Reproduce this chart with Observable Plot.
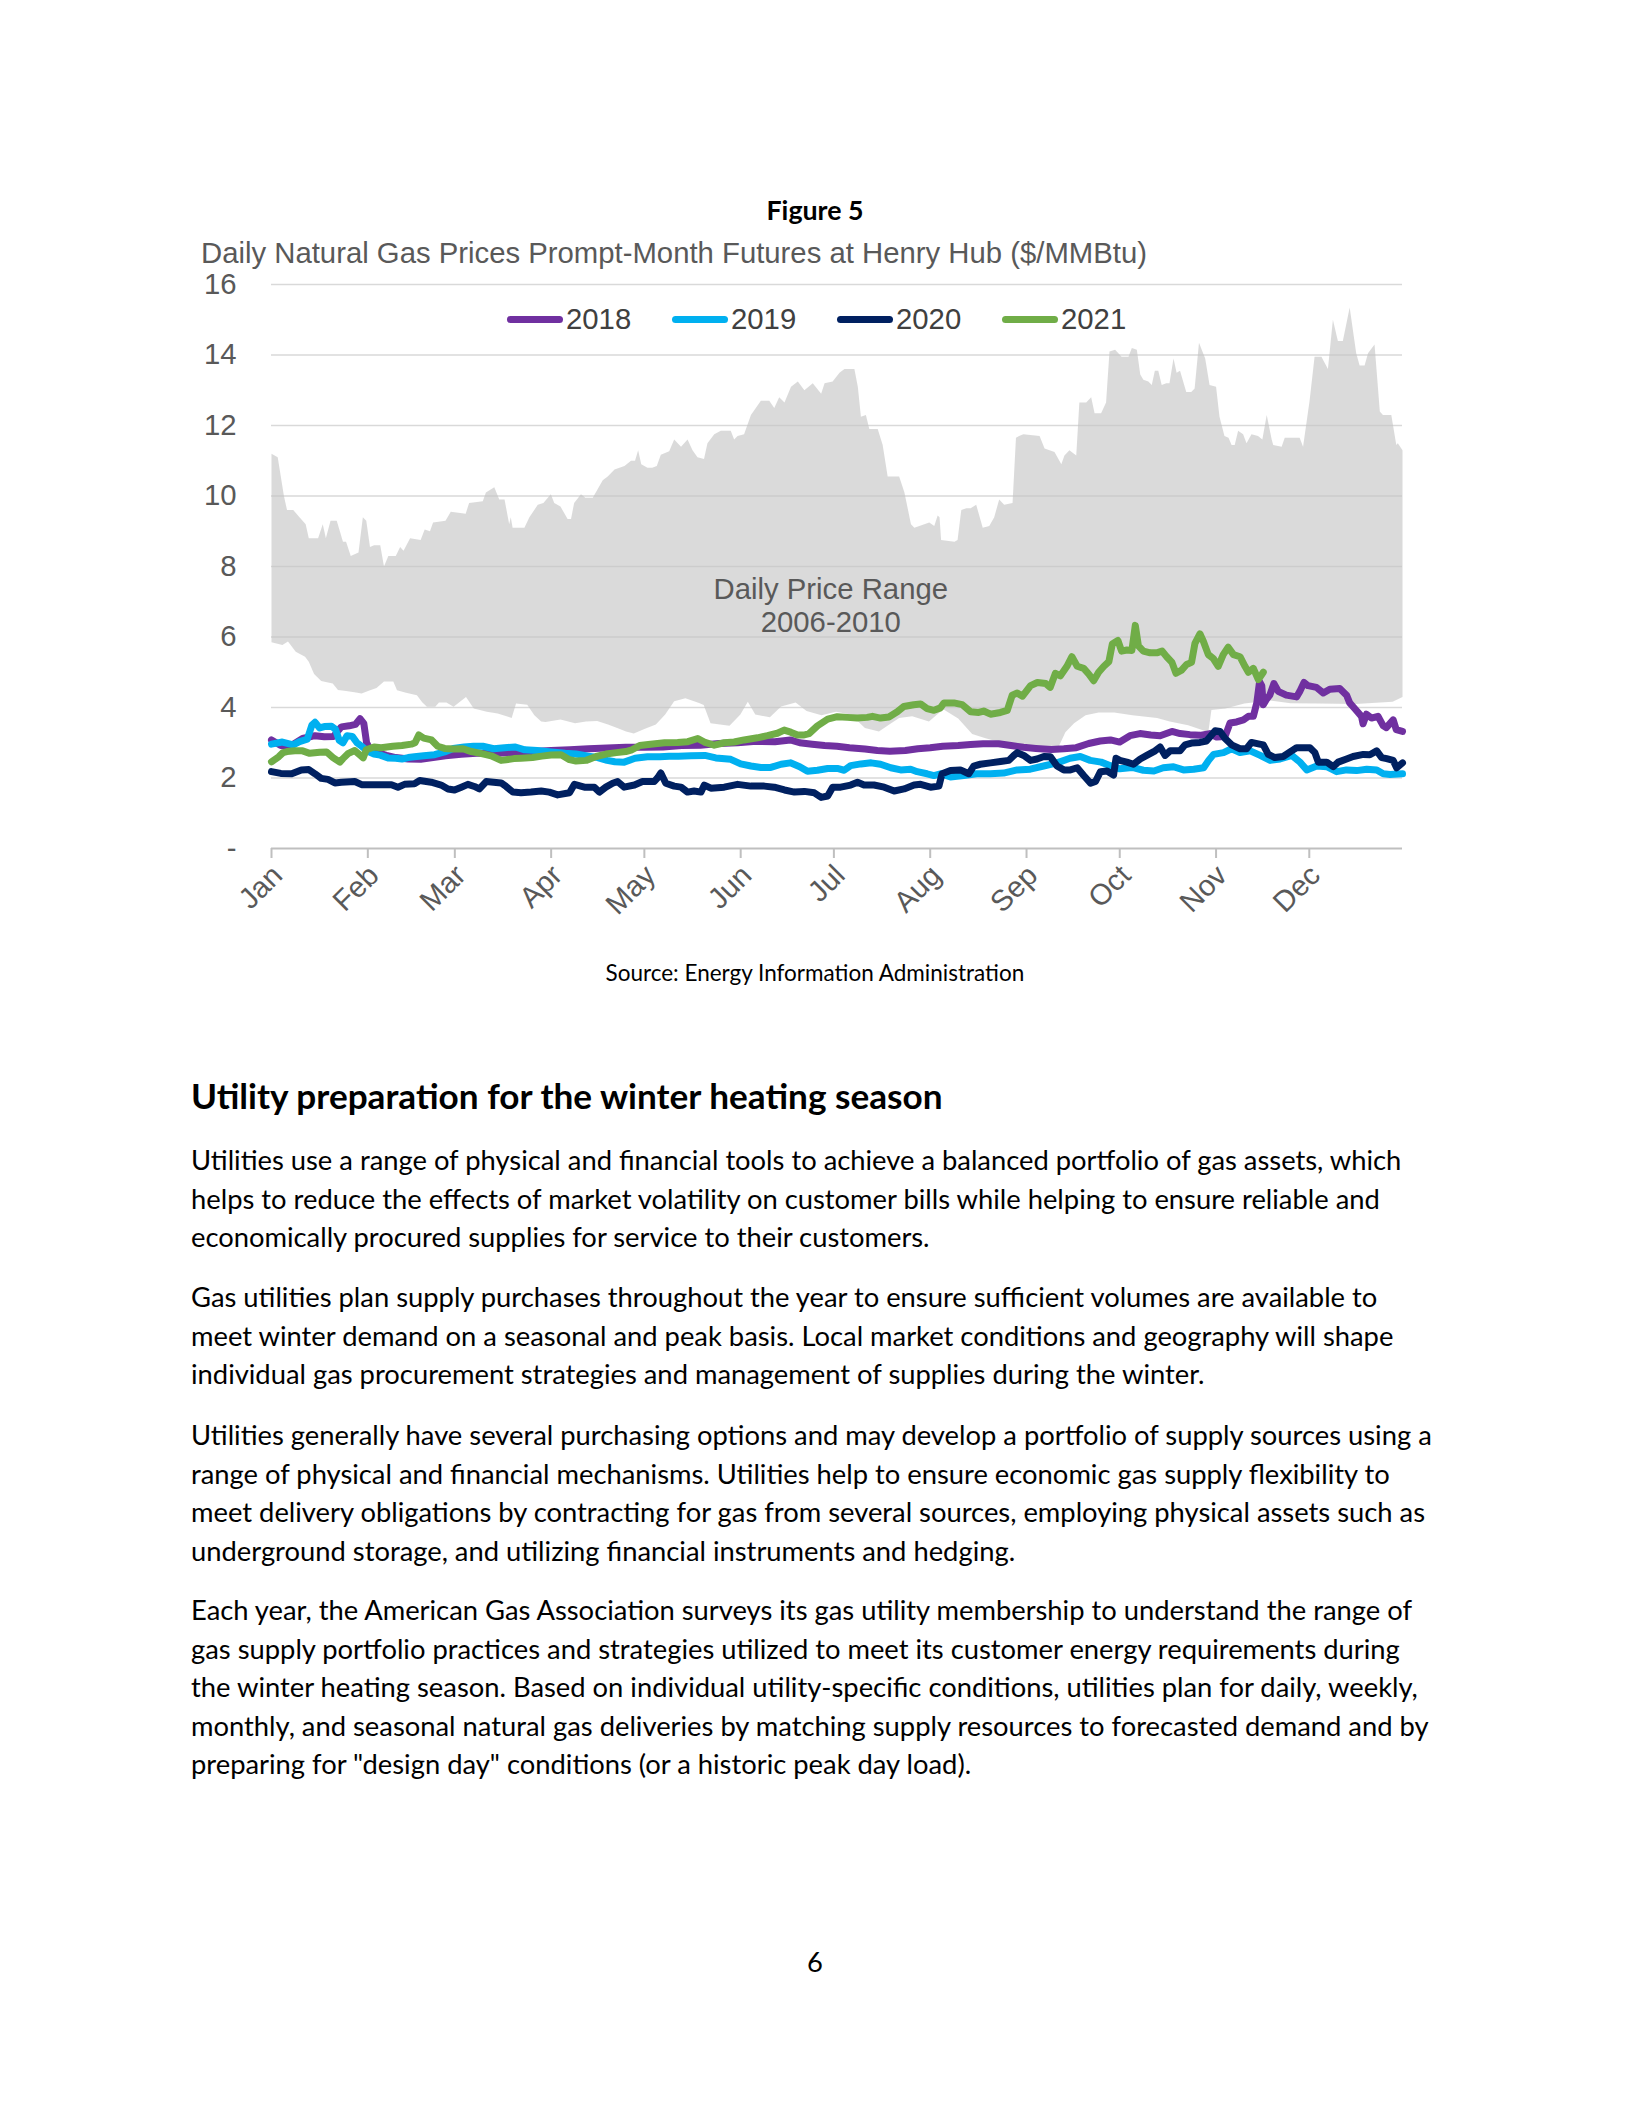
<!DOCTYPE html>
<html><head><meta charset="utf-8">
<script src="https://cdn.jsdelivr.net/npm/d3@7"></script>
<script src="https://cdn.jsdelivr.net/npm/@observablehq/plot@0.6"></script>
<style>
html,body{margin:0;padding:0;background:#fff;}
body{width:1631px;height:2111px;position:relative;overflow:hidden;}
.abs{position:absolute;white-space:nowrap;}
.doc{font-family:Lato,"Open Sans",sans-serif;color:#000;}
.ch{font-family:"Liberation Sans",Arial,sans-serif;}
</style></head><body>
<div id="figlabel" class="abs doc" style="font-weight:700">Figure 5</div>
<div id="ctitle" class="abs ch" style="left:201px;font-size:29.3px;line-height:29.3px;top:238px;color:#595959">Daily Natural Gas Prices Prompt-Month Futures at Henry Hub ($/MMBtu)</div>
<div id="chart" class="abs" style="left:0;top:240px"></div>
<div id="legend"></div>
<div id="source" class="abs doc">Source: Energy Information Administration</div>
<div id="heading" class="abs doc" style="font-weight:700">Utility preparation for the winter heating season</div>
<div id="paras"></div>
<div id="pagenum" class="abs doc">6</div>
<script>
// ---------- data ----------
const monthLabels = ["Jan","Feb","Mar","Apr","May","Jun","Jul","Aug","Sep","Oct","Nov","Dec"];
const monthStarts = [0,31,59,90,120,151,181,212,243,273,304,334];
const yTicks = [0,2,4,6,8,10,12,14,16];
const years = ["2018","2019","2020","2021"];
const colors = ["#7030A0","#00B0F0","#002060","#70AD47"];
const rangeLabel = {text:"Daily Price Range\n2006-2010", day:180, value:6.9};

// 2006-2010 daily range: [day of year, $/MMBtu]
const rangeHigh = [[0,11.2],[2,11.1],[4,10.0],[5,9.6],[7,9.6],[9,9.4],[11,9.2],[12,8.8],[15,8.8],[16.5,9.2],[17.5,8.8],[19,9.3],[21,9.3],[23,8.7],[24,8.7],[25.5,8.3],[28,8.4],[29.4,9.4],[30.5,9.3],[31.7,8.55],[33,8.6],[35,8.6],[36.2,8.0],[37.6,8.3],[40,8.3],[41.4,8.55],[42.5,8.45],[44.6,8.8],[48,8.75],[49.3,9.05],[51,9.0],[52,9.25],[56,9.3],[57.7,9.55],[62.5,9.5],[63.6,9.8],[68,9.85],[69,10.1],[71.7,10.25],[73.3,9.9],[75,9.9],[76.5,9.2],[77,9.4],[77.6,9.1],[81.4,9.1],[83,9.4],[85.7,9.75],[87.5,9.8],[89.9,10.05],[91,9.8],[93,9.7],[95.3,9.35],[96.4,9.35],[97.4,9.8],[99.6,10.05],[101,9.95],[103.4,9.95],[106.6,10.45],[108.2,10.55],[110.4,10.75],[113.6,10.85],[115.7,11.0],[117,11.0],[118,11.3],[119,10.9],[121,10.8],[122.5,10.8],[124,10.85],[125.3,11.17],[128,11.27],[129.6,11.6],[131.8,11.4],[133.9,11.6],[135.5,11.3],[137.1,11.1],[139.2,11.05],[140.3,11.5],[142.5,11.75],[144.6,11.85],[147.8,11.85],[148.9,11.6],[150,11.7],[152.1,11.75],[154.3,12.3],[157.5,12.7],[160.2,12.7],[161.8,12.5],[163.4,12.8],[165.1,12.65],[167.2,13.1],[169.4,13.25],[171.5,13.0],[174.2,13.2],[176.9,12.9],[178,13.2],[180.6,13.25],[182.8,13.5],[184.4,13.6],[187.6,13.6],[188.7,13.1],[189.7,12.25],[191.3,12.3],[192.4,11.9],[195.1,11.9],[196.7,11.45],[198.3,10.55],[202,10.55],[203.7,10.1],[205.8,9.2],[206.9,9.1],[210.1,9.2],[211.7,9.25],[213.3,9.15],[214.4,9.45],[215,9.4],[215.5,8.75],[219.8,8.7],[220.8,8.75],[222,9.6],[223.6,9.65],[225,9.65],[226.8,9.75],[228.9,9.1],[231,9.15],[232.6,9.4],[234.2,9.9],[235.8,9.75],[238.5,9.8],[239.6,11.65],[240.6,11.7],[242,11.75],[247.2,11.7],[248.8,11.35],[252,11.25],[254.2,10.9],[255.2,11.15],[256.8,11.3],[259,11.15],[260,12.65],[262.2,12.65],[263.8,12.8],[264.9,12.35],[267,12.35],[268.6,12.65],[269.7,14.1],[271.5,14.15],[273.6,13.95],[275.8,13.95],[276.9,14.2],[278.5,14.15],[279.6,13.45],[280.6,13.3],[282.2,13.25],[283.3,13.15],[284.3,13.55],[285.4,13.55],[286.5,13.15],[288,13.2],[289,13.2],[290.3,13.9],[291.3,13.5],[292.4,13.55],[294.4,12.95],[296,12.95],[297.1,13.05],[298.5,14.35],[300.5,13.9],[301.9,13.15],[304,13.1],[305.1,12.25],[306.7,11.7],[308,11.65],[309,11.45],[310,11.45],[311.1,11.85],[312.7,11.75],[313.8,11.5],[315.4,11.75],[317.5,11.7],[318.9,11.6],[320.3,12.3],[321.9,11.6],[322.4,11.45],[325.1,11.4],[326.1,11.65],[330.9,11.65],[332,11.4],[334.1,12.7],[335.7,13.95],[337.9,13.95],[340,13.6],[341.6,15.0],[343.2,14.4],[344.8,14.4],[347,15.35],[349.1,14.05],[350.2,13.7],[351.8,13.7],[352.9,14.05],[355,14.3],[356.7,12.4],[357.7,12.3],[360.4,12.3],[362,11.45],[362.5,11.5],[364,11.3]];
const rangeLow = [[0,5.85],[3.5,5.77],[5.3,5.87],[7.8,5.58],[10.8,5.44],[12,5.3],[13.7,4.95],[16,4.75],[19.7,4.68],[21.4,4.5],[24,4.47],[26.7,4.43],[29,4.4],[31.5,4.48],[33.8,4.55],[36.2,4.74],[39.2,4.74],[40.4,4.49],[43.3,4.42],[46.8,4.35],[48.5,4.15],[50,4.02],[52.7,4.02],[53.9,4.14],[56.3,4.14],[58.6,4.02],[62.6,4.3],[65.1,3.97],[69.3,3.88],[72.8,3.83],[76.4,3.73],[77.3,3.7],[78.7,4.11],[82.3,4.08],[84.6,3.78],[86.8,3.6],[88.2,3.59],[93,3.66],[97.7,3.55],[101.2,3.6],[104.8,3.62],[108.3,3.52],[111.9,3.4],[114.1,3.32],[116.6,3.26],[120.2,3.4],[123.7,3.52],[126.7,3.8],[129.6,4.18],[133.2,4.26],[137.6,4.13],[139.1,4.07],[141.3,3.55],[147.4,3.48],[150.9,3.8],[153.3,4.16],[155.7,3.8],[160.4,3.72],[164,4.03],[168.7,4.14],[172.2,3.9],[177,3.78],[181.7,3.88],[186.4,3.8],[191,3.42],[195.5,3.32],[198.7,3.51],[202,3.7],[206.2,3.75],[211.6,3.6],[216.2,3.95],[221,3.69],[225.5,3.25],[229.8,3.13],[235.2,3.0],[240.5,2.9],[244.8,2.82],[249.1,2.78],[253.4,2.9],[255.5,3.3],[258.3,3.55],[262,3.78],[266.2,3.86],[271.2,3.86],[277.1,3.78],[280,3.75],[285,3.7],[289.1,3.6],[295,3.5],[300,3.35],[301.5,3.3],[302.5,3.93],[307,3.97],[313.1,4.11],[321.4,4.2],[328,4.12],[336.9,4.11],[348.9,4.1],[360.8,4.16],[364,4.3]];

const prices2018 = [[0,3.08],[3,2.92],[6,2.9],[10,3.12],[14,3.2],[17,3.17],[20,3.18],[21.5,3.35],[22.5,3.45],[25,3.48],[27,3.52],[28.5,3.68],[29.7,3.55],[30.6,3.0],[31.8,2.8],[34,2.72],[37,2.64],[40,2.58],[44,2.54],[48,2.53],[52,2.58],[56,2.63],[61,2.67],[66,2.7],[72,2.7],[78,2.72],[84,2.75],[90,2.78],[96,2.8],[102,2.83],[108,2.85],[114,2.87],[120,2.87],[126,2.88],[132,2.92],[138,2.93],[144,2.98],[150,3.0],[156,3.04],[162,3.03],[167,3.08],[170,3.0],[174,2.96],[178,2.92],[182,2.9],[186,2.86],[191,2.82],[195,2.78],[199,2.76],[204,2.78],[208,2.83],[212,2.86],[216,2.9],[221,2.92],[225,2.95],[229,2.97],[234,2.97],[238,2.92],[242,2.87],[246,2.84],[251,2.81],[255,2.83],[259,2.86],[263,2.98],[266.7,3.05],[270,3.08],[273,3.02],[276.3,3.2],[279.5,3.26],[283,3.22],[286,3.2],[289.8,3.32],[292.4,3.26],[295.6,3.23],[298.8,3.21],[302,3.26],[304.2,3.16],[306.9,3.18],[308.5,3.56],[310.6,3.59],[312.8,3.65],[314.4,3.75],[316,3.75],[317.1,4.13],[318,4.73],[318.7,4.62],[319.2,4.08],[320.3,4.24],[321.3,4.35],[322.6,4.68],[324,4.46],[326.6,4.35],[329.9,4.3],[330.9,4.45],[332.3,4.71],[333.6,4.62],[336.3,4.57],[338.5,4.41],[340.6,4.52],[343.8,4.54],[346,4.35],[347,4.13],[348.6,3.97],[350.8,3.75],[351.3,3.54],[352.4,3.81],[354,3.7],[356.1,3.75],[357.8,3.48],[358.8,3.43],[361,3.65],[362,3.37],[364,3.32]];
const prices2019 = [[0,2.96],[3.5,3.02],[7,2.94],[9,3.03],[11.5,3.1],[13,3.5],[14,3.58],[15.5,3.42],[17,3.46],[19.3,3.47],[20.6,3.38],[21.8,3.07],[23,3.0],[24.3,3.2],[26,3.18],[27.5,3.0],[29,2.9],[31,2.76],[33,2.68],[35,2.65],[37.5,2.57],[40,2.56],[42,2.54],[44,2.58],[46,2.6],[49,2.63],[52.5,2.66],[55.7,2.74],[58.5,2.84],[62,2.88],[65,2.9],[68,2.9],[71.5,2.83],[75,2.86],[78.5,2.88],[81.5,2.8],[85.5,2.78],[90,2.74],[94.5,2.7],[98,2.68],[102,2.62],[105,2.58],[108,2.5],[110.5,2.46],[113.5,2.45],[117,2.56],[121,2.6],[125,2.6],[128,2.62],[131,2.62],[135,2.63],[139.5,2.64],[143,2.57],[147.8,2.53],[151,2.4],[154.3,2.34],[157.5,2.3],[160.7,2.3],[164,2.39],[167,2.43],[170,2.32],[172.5,2.19],[175.7,2.22],[179,2.27],[182.1,2.27],[184.3,2.22],[186.4,2.35],[189.7,2.4],[193,2.43],[196,2.39],[199.3,2.29],[202.5,2.23],[205.7,2.25],[207.8,2.18],[211,2.12],[213.2,2.07],[215.3,2.12],[218.5,2.03],[222.8,2.07],[227,2.12],[231.4,2.12],[235.6,2.14],[240,2.23],[244.2,2.25],[248.5,2.34],[252.8,2.43],[257,2.56],[260.3,2.61],[263.5,2.5],[267,2.45],[270,2.35],[273,2.26],[277,2.3],[280.6,2.22],[284,2.2],[287,2.29],[290.3,2.32],[293.5,2.23],[296.8,2.25],[300,2.29],[301.6,2.5],[303.2,2.67],[306.4,2.72],[309,2.83],[311.7,2.72],[315,2.77],[318.2,2.64],[321.4,2.5],[324.6,2.54],[328.4,2.64],[331,2.45],[333.2,2.23],[336.4,2.34],[339.6,2.32],[342.8,2.18],[346,2.23],[349.2,2.21],[352.5,2.25],[355.7,2.23],[357.8,2.12],[360,2.1],[364,2.12]];
const prices2020 = [[0,2.18],[3,2.13],[6.5,2.12],[9.6,2.23],[12,2.24],[14,2.12],[16,1.99],[18.2,1.96],[20.4,1.86],[22.5,1.88],[26.8,1.9],[29,1.81],[33,1.81],[38.6,1.81],[40.7,1.74],[42.8,1.82],[46,1.84],[47.7,1.93],[51.4,1.88],[54.6,1.8],[56.8,1.69],[58.9,1.66],[61.1,1.74],[63.2,1.82],[65.3,1.76],[66.9,1.69],[69.1,1.9],[73.9,1.86],[75.5,1.76],[77.7,1.6],[80.3,1.58],[83.5,1.6],[86.8,1.63],[89.4,1.6],[92.1,1.52],[95.9,1.58],[97.5,1.82],[100.7,1.74],[103.9,1.74],[105.5,1.6],[107.6,1.74],[109.8,1.85],[111.4,1.9],[113.5,1.74],[116.8,1.8],[119.4,1.9],[123.2,1.9],[124.3,2.01],[125.3,2.14],[126.9,1.85],[129.6,1.77],[131.8,1.74],[133.9,1.6],[136,1.63],[138.2,1.6],[139.3,1.8],[141.4,1.71],[145.7,1.74],[150,1.82],[154.3,1.77],[158.6,1.77],[161.8,1.74],[165.1,1.66],[168.3,1.6],[171.5,1.62],[174.7,1.58],[176.9,1.45],[179,1.49],[180.6,1.74],[183.2,1.74],[186.4,1.8],[188.6,1.88],[190.7,1.8],[193.9,1.8],[197.2,1.74],[200.4,1.63],[203.6,1.69],[206.8,1.8],[208.9,1.82],[212.1,1.74],[214.8,1.77],[215.8,2.12],[218.5,2.21],[221.7,2.23],[224.4,2.12],[226,2.34],[228.1,2.39],[231.4,2.43],[234.6,2.47],[237.3,2.5],[238.9,2.64],[240,2.72],[242.1,2.64],[244.3,2.5],[246.4,2.54],[248.6,2.61],[250.7,2.6],[252.8,2.34],[255,2.23],[257.1,2.23],[259.3,2.29],[261.4,2.07],[263.6,1.85],[265.2,1.9],[266.8,2.18],[268.9,2.2],[271,2.08],[271.8,2.56],[273,2.5],[275.3,2.45],[277.4,2.39],[279.6,2.54],[281.7,2.64],[284.4,2.77],[286,2.88],[287.6,2.64],[289.2,2.77],[292.4,2.77],[294,2.94],[296.1,2.99],[298.8,3.01],[300.9,3.05],[303.7,3.34],[305.3,3.32],[306.9,3.12],[309,2.94],[311.7,2.83],[313.8,2.83],[315.4,3.01],[317.6,2.97],[319.2,2.94],[320.8,2.67],[322.9,2.58],[325.6,2.61],[328.3,2.77],[329.9,2.86],[334.2,2.86],[335.8,2.72],[336.9,2.45],[339.6,2.45],[341.7,2.32],[343.3,2.45],[346,2.54],[348.1,2.61],[351.4,2.67],[353.5,2.66],[355.7,2.77],[357.3,2.58],[358.9,2.55],[361,2.5],[362.1,2.29],[364,2.43]];
const prices2021 = [[0,2.46],[2.3,2.6],[3.7,2.72],[5,2.75],[7.5,2.77],[10,2.77],[12.3,2.7],[15.5,2.73],[17.7,2.74],[19.8,2.58],[22,2.45],[23,2.55],[24.6,2.69],[26.8,2.78],[28.6,2.64],[29.5,2.57],[30.5,2.8],[33,2.88],[35.3,2.86],[39,2.9],[42,2.92],[45,2.96],[46.2,3.0],[47.4,3.22],[49,3.13],[51.5,3.08],[53.5,2.9],[55.7,2.84],[58.6,2.82],[61.6,2.83],[64.3,2.75],[67.3,2.7],[70.7,2.63],[73.9,2.5],[75.5,2.52],[78,2.55],[80.3,2.56],[84,2.58],[87,2.62],[90,2.65],[93.2,2.66],[95.9,2.52],[98,2.48],[101.3,2.5],[104.5,2.61],[107.7,2.68],[111,2.72],[114,2.75],[116,2.8],[118.5,2.92],[122,2.96],[126.5,3.0],[130.7,3.01],[134,3.03],[137.2,3.12],[139.3,3.02],[142.5,2.93],[145.7,3.0],[148.9,3.02],[152.1,3.08],[156.4,3.14],[159.6,3.2],[162.8,3.27],[165,3.36],[167.1,3.3],[169.3,3.22],[171.4,3.22],[173,3.26],[175.7,3.48],[179,3.67],[182.1,3.74],[185.3,3.72],[188.5,3.7],[191.7,3.72],[193.4,3.75],[196,3.7],[198.7,3.73],[201.4,3.88],[203.5,4.03],[206.7,4.08],[208.9,4.1],[211,3.97],[213.2,3.92],[215.3,3.99],[216.4,4.13],[219.6,4.13],[222.3,4.08],[225,3.88],[227.6,3.86],[229.2,3.9],[231.4,3.81],[234.6,3.86],[236.8,3.92],[238.4,4.35],[240,4.41],[241.7,4.32],[244.3,4.62],[246.5,4.71],[249.2,4.68],[250.6,4.57],[252.3,4.97],[253.9,4.9],[256,5.17],[257.6,5.44],[259.3,5.17],[261.4,5.11],[263,4.95],[264.6,4.76],[266.2,5.0],[267.9,5.17],[269.5,5.3],[270.6,5.8],[272.4,5.9],[273.6,5.6],[275.3,5.63],[276.9,5.62],[278,6.33],[279,5.75],[280.6,5.6],[282.8,5.55],[284.9,5.55],[286.6,5.6],[288.1,5.44],[289.8,5.28],[291.1,4.97],[292.9,5.06],[294.5,5.22],[296.1,5.28],[297.2,5.82],[298.8,6.09],[299.9,5.88],[301.5,5.5],[303.1,5.39],[304.7,5.17],[306.3,5.5],[307.9,5.71],[309.6,5.5],[311.7,5.44],[313.3,5.17],[314.4,5.0],[316,5.11],[317.6,4.79],[319.2,5.0]];

const paragraphs = [
 ["Utilities use a range of physical and financial tools to achieve a balanced portfolio of gas assets, which",
  "helps to reduce the effects of market volatility on customer bills while helping to ensure reliable and",
  "economically procured supplies for service to their customers."],
 ["Gas utilities plan supply purchases throughout the year to ensure sufficient volumes are available to",
  "meet winter demand on a seasonal and peak basis. Local market conditions and geography will shape",
  "individual gas procurement strategies and management of supplies during the winter."],
 ["Utilities generally have several purchasing options and may develop a portfolio of supply sources using a",
  "range of physical and financial mechanisms. Utilities help to ensure economic gas supply flexibility to",
  "meet delivery obligations by contracting for gas from several sources, employing physical assets such as",
  "underground storage, and utilizing financial instruments and hedging."],
 ["Each year, the American Gas Association surveys its gas utility membership to understand the range of",
  "gas supply portfolio practices and strategies utilized to meet its customer energy requirements during",
  "the winter heating season. Based on individual utility-specific conditions, utilities plan for daily, weekly,",
  "monthly, and seasonal natural gas deliveries by matching supply resources to forecasted demand and by",
  "preparing for \"design day\" conditions (or a historic peak day load)."]
];

// ---------- chart ----------
const toRows = arr => arr.map(([day, value]) => ({day, value}));
const rangePolygon = toRows(rangeHigh).concat(toRows(rangeLow).reverse());
const seriesRows = [prices2018, prices2019, prices2020, prices2021].map(toRows);

const chart = Plot.plot({
  width: 1631, height: 700,
  marginLeft: 271, marginRight: 229, marginTop: 44, marginBottom: 92,
  style: {fontFamily: "'Liberation Sans', Arial, sans-serif", background: "transparent", overflow: "visible"},
  x: {domain: [0, 364], label: null},
  y: {domain: [0, 16], label: null},
  marks: [
    Plot.gridY(yTicks.filter(d => d > 0), {stroke: "#d9d9d9", strokeOpacity: 1, strokeWidth: 1.6}),
    Plot.line(rangePolygon, {x: "day", y: "value", fill: "#c4c4c4", fillOpacity: 0.62, stroke: "none"}),
    Plot.text([rangeLabel], {x: "day", y: "value", text: "text", fontSize: 29.3, fill: "#595959", lineHeight: 1.12}),
    ...seriesRows.map((rows, i) => Plot.line(rows, {x: "day", y: "value", stroke: colors[i], strokeWidth: 7, strokeLinejoin: "round", strokeLinecap: "round"})),
    Plot.ruleY([0], {stroke: "#bfbfbf", strokeWidth: 2}),
    Plot.axisY(yTicks, {label: null, tickSize: 0, tickPadding: 35, fontSize: 29.3, fill: "#595959", tickFormat: d => d === 0 ? "-" : String(d)}),
    Plot.axisX(monthStarts, {label: null, tickSize: 10, stroke: "#bfbfbf", strokeWidth: 2, tickFormat: () => ""}),
    Plot.axisX(monthStarts, {label: null, tickSize: 0, tickRotate: -45, tickPadding: 22, fontSize: 29.3, fill: "#595959",
      tickFormat: d => monthLabels[monthStarts.indexOf(d)], dx: 6})
  ]
});
document.getElementById("chart").appendChild(chart);

// ---------- legend ----------
const legend = document.getElementById("legend");
years.forEach((yr, i) => {
  const sx = 507 + i * 165;
  const sw = document.createElement("div");
  sw.className = "abs";
  sw.style.cssText = `left:${sx}px;top:315.5px;width:56px;height:7px;border-radius:3.5px;background:${colors[i]}`;
  legend.appendChild(sw);
  const t = document.createElement("div");
  t.className = "abs ch";
  t.style.cssText = `left:${sx + 59}px;top:304px;font-size:29.3px;line-height:29.3px;color:#404040`;
  t.textContent = yr;
  legend.appendChild(t);
});

// ---------- document text ----------
function widthAt(text, weight, size) {
  const s = document.createElement("span");
  s.className = "abs doc";
  s.style.cssText = `font-size:${size}px;font-weight:${weight};visibility:hidden;left:0;top:0`;
  s.textContent = text;
  document.body.appendChild(s);
  const w = s.getBoundingClientRect().width;
  s.remove();
  return w;
}
const bodySize = 100 * 1211 / widthAt(paragraphs[0][0], 400, 100);
const lineH = 38.6;
function place(el, size, baseline, lh) {
  el.style.fontSize = size + "px";
  el.style.lineHeight = lh + "px";
  el.style.top = (baseline - ((lh - 1.2 * size) / 2 + 0.987 * size)) + "px";
}
const fig = document.getElementById("figlabel");
const figSize = 100 * 97 / widthAt("Figure 5", 700, 100);
place(fig, figSize, 220, figSize * 1.2);
fig.style.left = (815 - 97 / 2) + "px";

const src = document.getElementById("source");
const srcSize = 100 * 419 / widthAt(src.textContent, 400, 100);
place(src, srcSize, 981, srcSize * 1.2);
src.style.left = (815 - 419 / 2) + "px";

const head = document.getElementById("heading");
const headSize = 100 * 752 / widthAt(head.textContent, 700, 100);
place(head, headSize, 1109, headSize * 1.2);
head.style.left = "191px";

const paraBaselines = [1171, 1308, 1446, 1621];
const parasEl = document.getElementById("paras");
paragraphs.forEach((lines, i) => {
  const p = document.createElement("div");
  p.className = "abs doc";
  p.style.left = "191px";
  p.innerHTML = lines.map(l => l.replace(/&/g,"&amp;").replace(/</g,"&lt;")).join("<br>");
  place(p, bodySize, paraBaselines[i], lineH);
  parasEl.appendChild(p);
});
const pn = document.getElementById("pagenum");
place(pn, bodySize, 1973, bodySize * 1.2);
pn.style.left = (815 - widthAt("6", 400, bodySize) / 2) + "px";
</script>
</body></html>
